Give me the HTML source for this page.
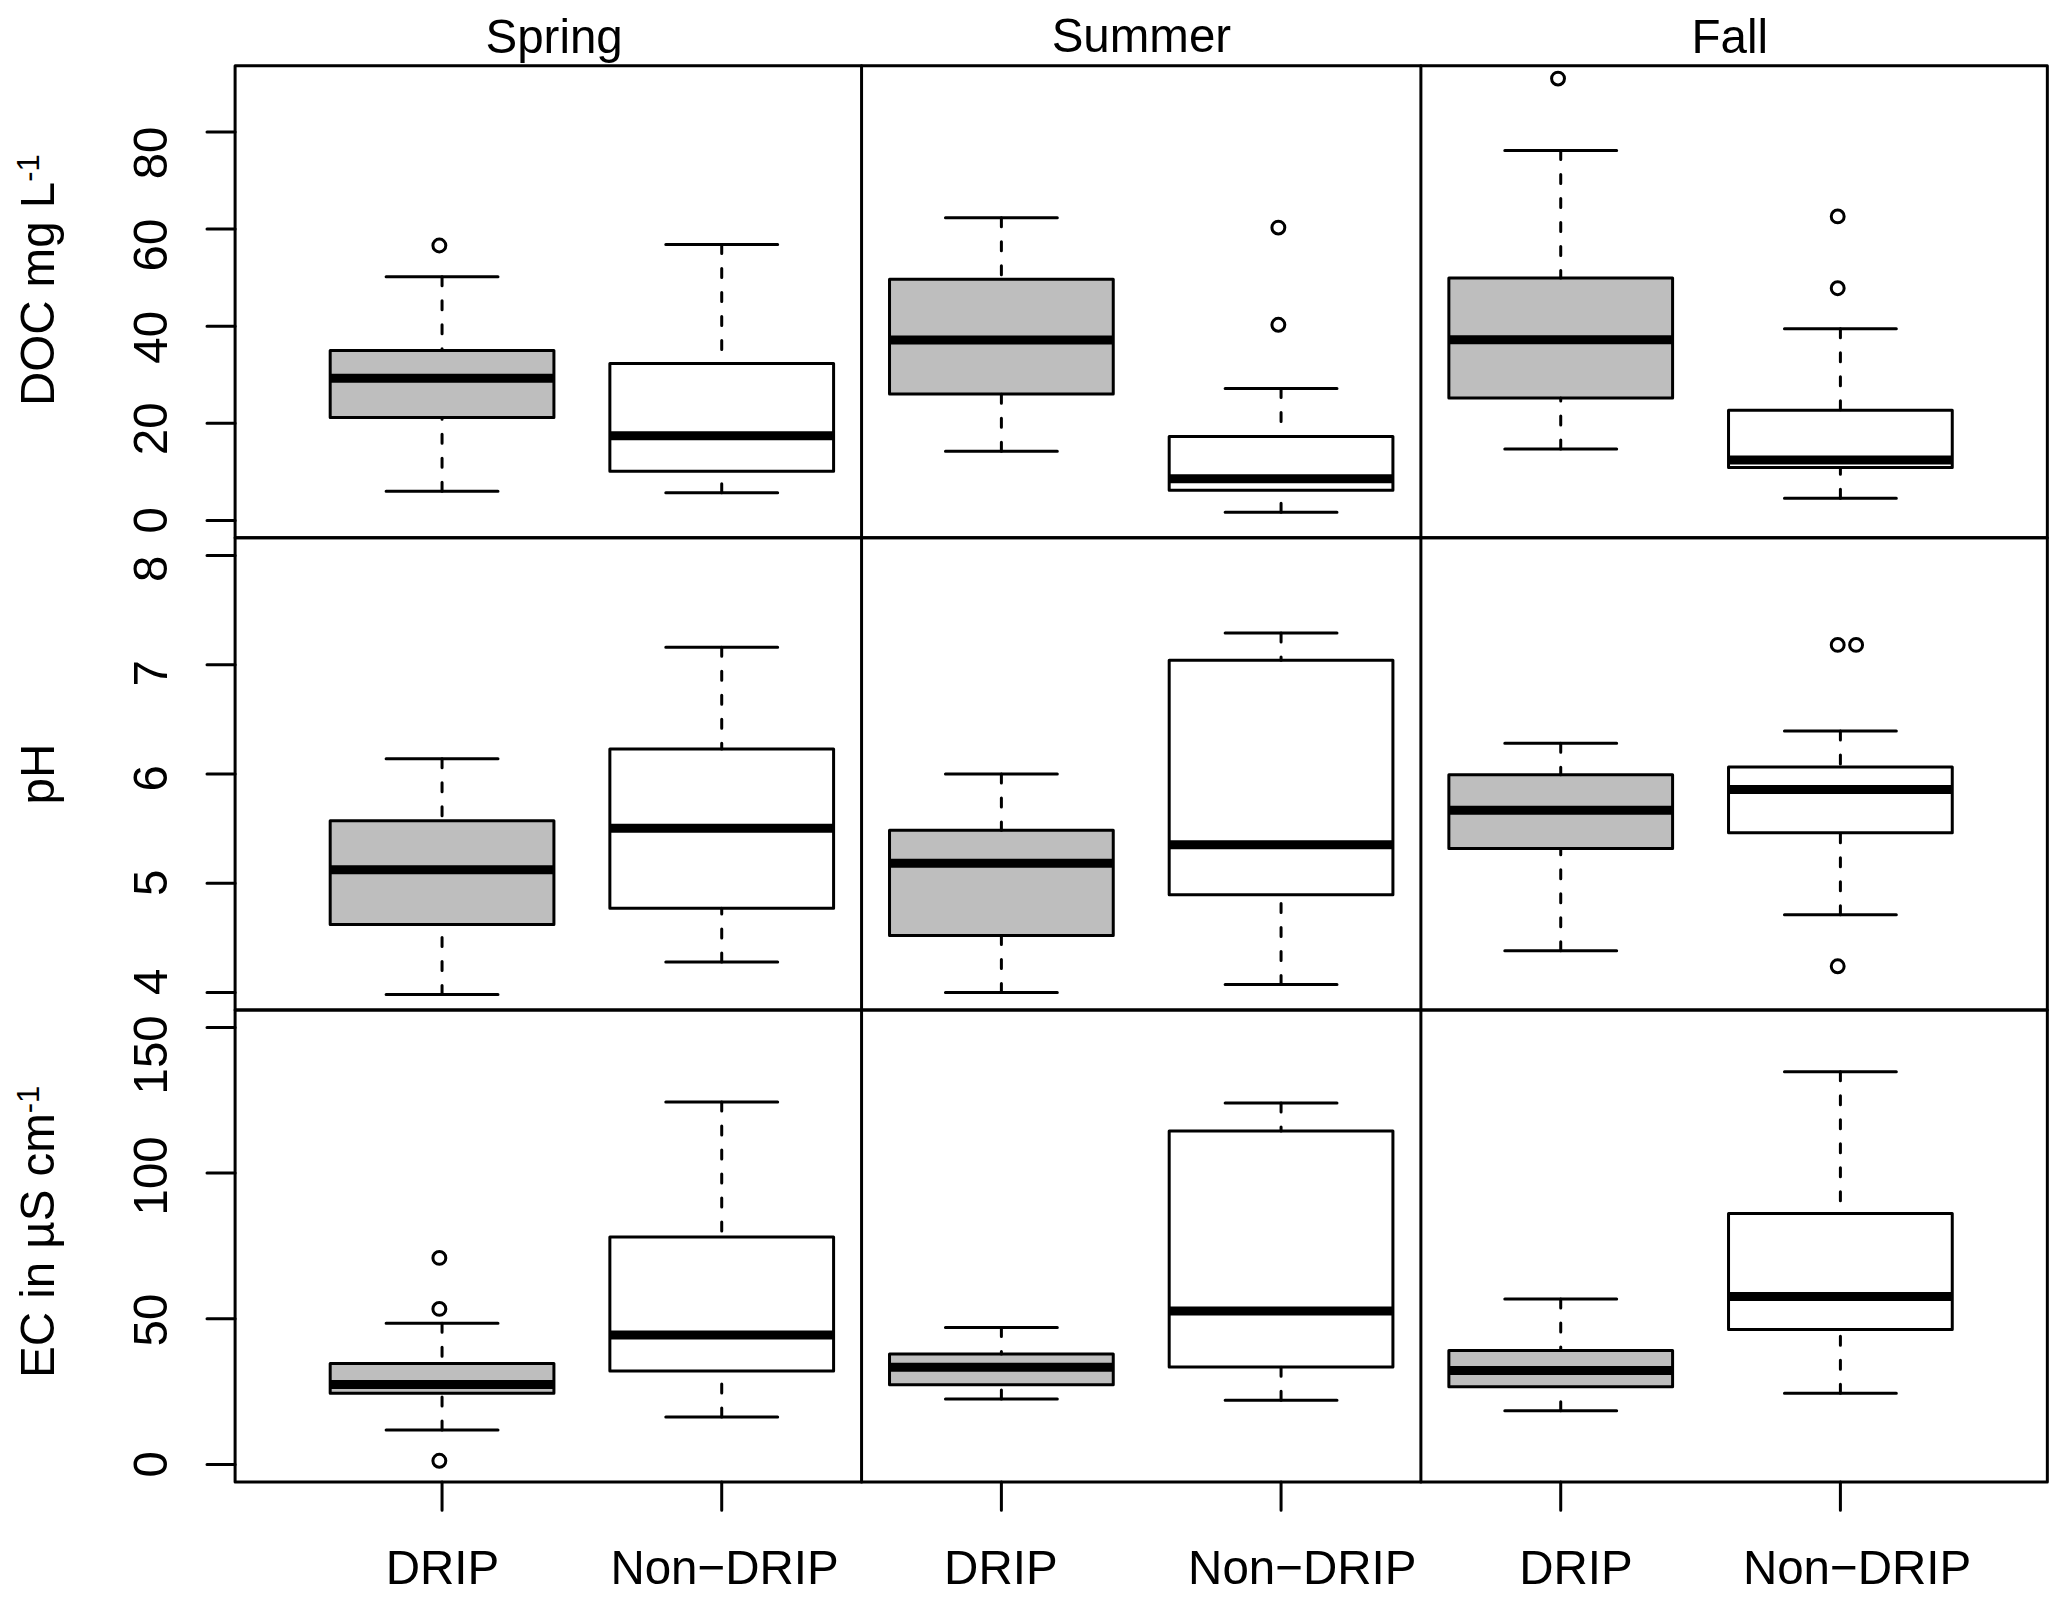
<!DOCTYPE html>
<html lang="en"><head><meta charset="utf-8"><title>DOC, pH and EC by season: DRIP vs Non-DRIP</title>
<style>html,body{margin:0;padding:0;background:#fff;overflow:hidden}svg{display:block}text{font-family:"Liberation Sans",sans-serif;font-size:47.5px;fill:#000}</style>
</head><body>
<svg width="2067" height="1602" viewBox="0 0 2067 1602">
<rect width="2067" height="1602" fill="#fff"/>
<g fill="none" stroke="#000" stroke-width="3" stroke-linecap="round" stroke-linejoin="round">
<rect x="330.19" y="350.4" width="223.73" height="67" fill="#bebebe"/>
<line x1="330.19" y1="378.2" x2="553.92" y2="378.2" stroke-width="9" stroke-linecap="butt"/>
<path d="M442.05 276.7V350.4 M442.05 491.2V417.4" stroke-dasharray="9 15"/>
<path d="M386.12 276.7H497.99 M386.12 491.2H497.99"/>
<circle cx="439.35" cy="245.5" r="6.45"/>
<rect x="609.86" y="363.4" width="223.73" height="107.9" fill="#fff"/>
<line x1="609.86" y1="435.8" x2="833.59" y2="435.8" stroke-width="9" stroke-linecap="butt"/>
<path d="M721.72 244.4V363.4 M721.72 492.7V471.3" stroke-dasharray="9 15"/>
<path d="M665.79 244.4H777.66 M665.79 492.7H777.66"/>
<rect x="889.52" y="279.2" width="223.73" height="114.8" fill="#bebebe"/>
<line x1="889.52" y1="340.1" x2="1113.26" y2="340.1" stroke-width="9" stroke-linecap="butt"/>
<path d="M1001.39 217.8V279.2 M1001.39 451.3V394" stroke-dasharray="9 15"/>
<path d="M945.46 217.8H1057.32 M945.46 451.3H1057.32"/>
<rect x="1169.19" y="436.6" width="223.73" height="53.7" fill="#fff"/>
<line x1="1169.19" y1="478.7" x2="1392.93" y2="478.7" stroke-width="9" stroke-linecap="butt"/>
<path d="M1281.06 388.5V436.6 M1281.06 512.2V490.3" stroke-dasharray="9 15"/>
<path d="M1225.13 388.5H1336.99 M1225.13 512.2H1336.99"/>
<circle cx="1278.36" cy="227.6" r="6.45"/>
<circle cx="1278.36" cy="324.8" r="6.45"/>
<rect x="1448.86" y="278" width="223.73" height="120" fill="#bebebe"/>
<line x1="1448.86" y1="339.8" x2="1672.59" y2="339.8" stroke-width="9" stroke-linecap="butt"/>
<path d="M1560.73 150.5V278 M1560.73 449V398" stroke-dasharray="9 15"/>
<path d="M1504.79 150.5H1616.66 M1504.79 449H1616.66"/>
<circle cx="1558.03" cy="78.6" r="6.45"/>
<rect x="1728.53" y="410.3" width="223.73" height="57.3" fill="#fff"/>
<line x1="1728.53" y1="460" x2="1952.26" y2="460" stroke-width="9" stroke-linecap="butt"/>
<path d="M1840.4 328.7V410.3 M1840.4 498.2V467.6" stroke-dasharray="9 15"/>
<path d="M1784.46 328.7H1896.33 M1784.46 498.2H1896.33"/>
<circle cx="1837.7" cy="216.4" r="6.45"/>
<circle cx="1837.7" cy="288.2" r="6.45"/>
<rect x="330.19" y="820.8" width="223.73" height="103.7" fill="#bebebe"/>
<line x1="330.19" y1="869.8" x2="553.92" y2="869.8" stroke-width="9" stroke-linecap="butt"/>
<path d="M442.05 758.7V820.8 M442.05 994.6V924.5" stroke-dasharray="9 15"/>
<path d="M386.12 758.7H497.99 M386.12 994.6H497.99"/>
<rect x="609.86" y="749" width="223.73" height="159.3" fill="#fff"/>
<line x1="609.86" y1="828.3" x2="833.59" y2="828.3" stroke-width="9" stroke-linecap="butt"/>
<path d="M721.72 647.2V749 M721.72 961.9V908.3" stroke-dasharray="9 15"/>
<path d="M665.79 647.2H777.66 M665.79 961.9H777.66"/>
<rect x="889.52" y="830.2" width="223.73" height="105.3" fill="#bebebe"/>
<line x1="889.52" y1="863.3" x2="1113.26" y2="863.3" stroke-width="9" stroke-linecap="butt"/>
<path d="M1001.39 774V830.2 M1001.39 992.5V935.5" stroke-dasharray="9 15"/>
<path d="M945.46 774H1057.32 M945.46 992.5H1057.32"/>
<rect x="1169.19" y="660.3" width="223.73" height="234.5" fill="#fff"/>
<line x1="1169.19" y1="844.8" x2="1392.93" y2="844.8" stroke-width="9" stroke-linecap="butt"/>
<path d="M1281.06 633V660.3 M1281.06 984.6V894.8" stroke-dasharray="9 15"/>
<path d="M1225.13 633H1336.99 M1225.13 984.6H1336.99"/>
<rect x="1448.86" y="774.7" width="223.73" height="73.9" fill="#bebebe"/>
<line x1="1448.86" y1="810.3" x2="1672.59" y2="810.3" stroke-width="9" stroke-linecap="butt"/>
<path d="M1560.73 743.2V774.7 M1560.73 950.7V848.6" stroke-dasharray="9 15"/>
<path d="M1504.79 743.2H1616.66 M1504.79 950.7H1616.66"/>
<rect x="1728.53" y="766.9" width="223.73" height="65.8" fill="#fff"/>
<line x1="1728.53" y1="789.4" x2="1952.26" y2="789.4" stroke-width="9" stroke-linecap="butt"/>
<path d="M1840.4 731V766.9 M1840.4 914.8V832.7" stroke-dasharray="9 15"/>
<path d="M1784.46 731H1896.33 M1784.46 914.8H1896.33"/>
<circle cx="1837.7" cy="644.9" r="6.45"/>
<circle cx="1856.1" cy="644.9" r="6.45"/>
<circle cx="1837.7" cy="966.3" r="6.45"/>
<rect x="330.19" y="1363.4" width="223.73" height="29.9" fill="#bebebe"/>
<line x1="330.19" y1="1384.6" x2="553.92" y2="1384.6" stroke-width="9" stroke-linecap="butt"/>
<path d="M442.05 1323.3V1363.4 M442.05 1430V1393.3" stroke-dasharray="9 15"/>
<path d="M386.12 1323.3H497.99 M386.12 1430H497.99"/>
<circle cx="439.35" cy="1257.9" r="6.45"/>
<circle cx="439.35" cy="1308.9" r="6.45"/>
<circle cx="439.35" cy="1460.8" r="6.45"/>
<rect x="609.86" y="1236.9" width="223.73" height="134.1" fill="#fff"/>
<line x1="609.86" y1="1335" x2="833.59" y2="1335" stroke-width="9" stroke-linecap="butt"/>
<path d="M721.72 1102.1V1236.9 M721.72 1417V1371" stroke-dasharray="9 15"/>
<path d="M665.79 1102.1H777.66 M665.79 1417H777.66"/>
<rect x="889.52" y="1353.9" width="223.73" height="30.8" fill="#bebebe"/>
<line x1="889.52" y1="1367.2" x2="1113.26" y2="1367.2" stroke-width="9" stroke-linecap="butt"/>
<path d="M1001.39 1327.5V1353.9 M1001.39 1399V1384.7" stroke-dasharray="9 15"/>
<path d="M945.46 1327.5H1057.32 M945.46 1399H1057.32"/>
<rect x="1169.19" y="1131.1" width="223.73" height="235.8" fill="#fff"/>
<line x1="1169.19" y1="1310.9" x2="1392.93" y2="1310.9" stroke-width="9" stroke-linecap="butt"/>
<path d="M1281.06 1102.9V1131.1 M1281.06 1400.2V1366.9" stroke-dasharray="9 15"/>
<path d="M1225.13 1102.9H1336.99 M1225.13 1400.2H1336.99"/>
<rect x="1448.86" y="1350.5" width="223.73" height="36.2" fill="#bebebe"/>
<line x1="1448.86" y1="1370.4" x2="1672.59" y2="1370.4" stroke-width="9" stroke-linecap="butt"/>
<path d="M1560.73 1299V1350.5 M1560.73 1410.7V1386.7" stroke-dasharray="9 15"/>
<path d="M1504.79 1299H1616.66 M1504.79 1410.7H1616.66"/>
<rect x="1728.53" y="1213.5" width="223.73" height="116.1" fill="#fff"/>
<line x1="1728.53" y1="1296.5" x2="1952.26" y2="1296.5" stroke-width="9" stroke-linecap="butt"/>
<path d="M1840.4 1071.8V1213.5 M1840.4 1393.2V1329.6" stroke-dasharray="9 15"/>
<path d="M1784.46 1071.8H1896.33 M1784.46 1393.2H1896.33"/>
<rect x="235.1" y="65.85" width="1812.25" height="472"/>
<rect x="235.1" y="537.85" width="1812.25" height="472.05"/>
<rect x="235.1" y="1009.9" width="1812.25" height="472.15"/>
<path d="M861.56 65.85V1482.05"/>
<path d="M1420.89 65.85V1482.05"/>
<path d="M235.1 132H207 M235.1 229.1H207 M235.1 326.2H207 M235.1 423.3H207 M235.1 520.5H207 M235.1 555.5H207 M235.1 664.7H207 M235.1 774H207 M235.1 883.2H207 M235.1 992.4H207 M235.1 1027.5H207 M235.1 1173.1H207 M235.1 1318.7H207 M235.1 1464.4H207"/>
<path d="M442.05 1482.05V1510.15 M721.72 1482.05V1510.15 M1001.39 1482.05V1510.15 M1281.06 1482.05V1510.15 M1560.73 1482.05V1510.15 M1840.4 1482.05V1510.15"/>
</g>
<g>
<text transform="translate(485.5 53.1) scale(1 1.03)">Spring</text>
<text transform="translate(1051.7 52) scale(1 1.03)">Summer</text>
<text transform="translate(1691.5 53.2) scale(1 1.03)">Fall</text>
<text transform="translate(385.7 1584.2) scale(1 1.03)">DRIP</text>
<text transform="translate(610.4 1584.2) scale(1 1.03)">Non−DRIP</text>
<text transform="translate(944.1 1584.2) scale(1 1.03)">DRIP</text>
<text transform="translate(1188.1 1584.2) scale(1 1.03)">Non−DRIP</text>
<text transform="translate(1519.2 1584.2) scale(1 1.03)">DRIP</text>
<text transform="translate(1742.9 1584.2) scale(1 1.03)">Non−DRIP</text>
<text transform="translate(167.4 152.95) rotate(-90) scale(1 1.03)" text-anchor="middle">80</text>
<text transform="translate(167.4 245) rotate(-90) scale(1 1.03)" text-anchor="middle">60</text>
<text transform="translate(167.4 337.3) rotate(-90) scale(1 1.03)" text-anchor="middle">40</text>
<text transform="translate(167.4 428.8) rotate(-90) scale(1 1.03)" text-anchor="middle">20</text>
<text transform="translate(167.4 520.2) rotate(-90) scale(1 1.03)" text-anchor="middle">0</text>
<text transform="translate(167.4 568.7) rotate(-90) scale(1 1.03)" text-anchor="middle">8</text>
<text transform="translate(167.4 673.2) rotate(-90) scale(1 1.03)" text-anchor="middle">7</text>
<text transform="translate(167.4 778.2) rotate(-90) scale(1 1.03)" text-anchor="middle">6</text>
<text transform="translate(167.4 882.8) rotate(-90) scale(1 1.03)" text-anchor="middle">5</text>
<text transform="translate(167.4 981.8) rotate(-90) scale(1 1.03)" text-anchor="middle">4</text>
<text transform="translate(167.4 1054.85) rotate(-90) scale(1 1.03)" text-anchor="middle">150</text>
<text transform="translate(167.4 1175.85) rotate(-90) scale(1 1.03)" text-anchor="middle">100</text>
<text transform="translate(167.4 1320) rotate(-90) scale(1 1.03)" text-anchor="middle">50</text>
<text transform="translate(167.4 1464.3) rotate(-90) scale(1 1.03)" text-anchor="middle">0</text>
<text transform="translate(53.7 406.1) rotate(-90) scale(1 1.03)">DOC mg L<tspan dy="-14.2" font-size="30.88">-1</tspan></text>
<text transform="translate(53.7 804.5) rotate(-90) scale(1 1.03)">pH</text>
<text transform="translate(53.7 1378) rotate(-90) scale(1 1.03)">EC in µS cm<tspan dy="-14.2" font-size="30.88">-1</tspan></text>
</g>
</svg>
</body></html>
